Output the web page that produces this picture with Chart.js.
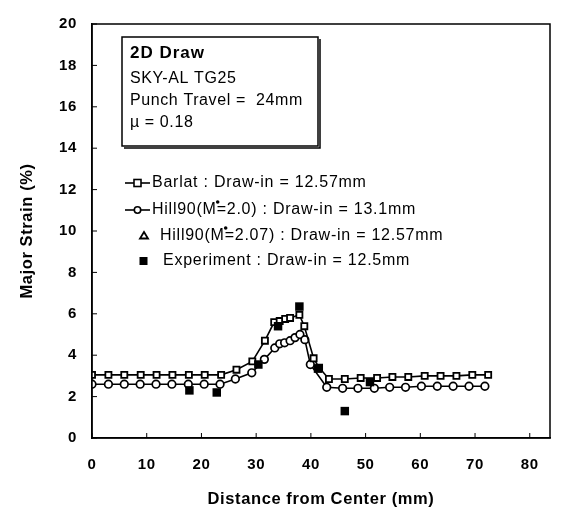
<!DOCTYPE html>
<html>
<head>
<meta charset="utf-8">
<script src="https://cdn.jsdelivr.net/npm/chart.js@4/dist/chart.umd.min.js"></script>
<style>
  body { margin: 0; background: #fff; }
  #wrap { width: 564px; height: 513px; }
</style>
</head>
<body>
<div id="wrap"><canvas id="strainChart" width="564" height="513"></canvas></div>
<script>
// values
const barlatX = [0, 3, 5.9, 8.9, 11.8, 14.7, 17.7, 20.6, 23.6, 26.4, 29.3, 31.6, 33.3, 34.3, 35.3, 36.2, 37.9, 38.8, 40.5, 41.5, 43.3, 46.2, 49.1, 52.1, 54.9, 57.8, 60.8, 63.7, 66.6, 69.5, 72.4];
const barlatY = [3.05, 3.05, 3.05, 3.05, 3.05, 3.05, 3.05, 3.05, 3.05, 3.3, 3.7, 4.7, 5.6, 5.65, 5.75, 5.8, 5.95, 5.4, 3.85, 3.4, 2.85, 2.85, 2.9, 2.9, 2.95, 2.95, 3.0, 3.0, 3.0, 3.05, 3.05];

const hillX = [0, 3, 5.9, 8.8, 11.7, 14.6, 17.6, 20.5, 23.4, 26.2, 29.2, 31.5, 33.4, 34.3, 35.2, 36.2, 37.1, 38.0, 38.9, 39.9, 42.9, 45.8, 48.6, 51.6, 54.4, 57.3, 60.2, 63.1, 66.0, 68.9, 71.8];
const hillY = [2.6, 2.6, 2.6, 2.6, 2.6, 2.6, 2.6, 2.6, 2.6, 2.85, 3.15, 3.8, 4.35, 4.55, 4.6, 4.7, 4.85, 5.0, 4.75, 3.55, 2.45, 2.4, 2.4, 2.4, 2.45, 2.45, 2.5, 2.5, 2.5, 2.5, 2.5];

const expX = [17.8, 22.8, 30.4, 34.0, 37.9, 41.3, 46.2, 50.8];
const expY = [2.3, 2.2, 3.55, 5.4, 6.35, 3.35, 1.3, 2.7];

const xTicks = [0, 10, 20, 30, 40, 50, 60, 70, 80];
const yTicks = [0, 2, 4, 6, 8, 10, 12, 14, 16, 18, 20];

const infoLines = ['SKY-AL TG25', 'Punch Travel =  24mm', '\u00b5 = 0.18'];

function toPoints(xs, ys) {
    return xs.map((x, i) => ({ x: x, y: ys[i] }));
}

const FONT = '"Liberation Sans", Arial, sans-serif';

// the scanned lettering is wider than Arial, spread it a bit
const spacingPlugin = {
    id: 'spacing',
    beforeDraw(chart) {
        chart.ctx.letterSpacing = '0.6px';
    }
};

// frame, inward ticks, text box and legend
const decorPlugin = {
    id: 'decor',
    afterDraw(chart) {
        const c = chart.ctx;
        const a = chart.chartArea;
        const xs = chart.scales.x;
        const ys = chart.scales.y;
        c.save();
        c.strokeStyle = '#000';
        c.fillStyle = '#000';
        c.lineWidth = 1.5;
        c.strokeRect(a.left, a.top, a.right - a.left, a.bottom - a.top);

        // inward ticks
        c.lineWidth = 1;
        c.beginPath();
        yTicks.forEach(v => {
            const py = ys.getPixelForValue(v);
            c.moveTo(a.left, py);
            c.lineTo(a.left + 5, py);
        });
        xTicks.forEach(v => {
            const px = xs.getPixelForValue(v);
            c.moveTo(px, a.bottom);
            c.lineTo(px, a.bottom - 5);
        });
        c.stroke();

        // info box with a little shadow
        c.lineWidth = 1.5;
        c.strokeRect(122, 37, 196, 109);
        c.beginPath();
        c.moveTo(320, 39); c.lineTo(320, 148); c.lineTo(124, 148);
        c.stroke();
        c.textBaseline = 'middle';
        c.textAlign = 'left';
        c.letterSpacing = '1px';
        c.font = 'bold 17px ' + FONT;
        c.fillText('2D Draw', 130, 53);
        c.letterSpacing = '0.6px';
        c.font = '16px ' + FONT;
        infoLines.forEach((t, i) => c.fillText(t, 130, 79 + i * 22));

        // legend
        c.font = '16px ' + FONT;
        c.letterSpacing = '0.75px';
        c.lineWidth = 1.6;
        // Barlat
        c.beginPath(); c.moveTo(125, 183); c.lineTo(150, 183); c.stroke();
        c.fillStyle = '#fff';
        c.fillRect(134, 179.5, 7, 7);
        c.strokeRect(134, 179.5, 7, 7);
        c.fillStyle = '#000';
        c.fillText('Barlat : Draw-in = 12.57mm', 152, 183);
        // Hill90 M=2.0
        c.beginPath(); c.moveTo(125, 210); c.lineTo(150, 210); c.stroke();
        c.fillStyle = '#fff';
        c.beginPath(); c.arc(137.5, 210, 3.2, 0, Math.PI * 2); c.fill(); c.stroke();
        c.fillStyle = '#000';
        const t2a = 'Hill90(M';
        const t2b = '=2.0) : Draw-in = 13.1mm';
        c.fillText(t2a, 152, 210);
        let w = c.measureText(t2a).width;
        c.fillText(t2b, 152 + w, 210);
        c.beginPath(); c.arc(152 + w + 1, 202, 1.8, 0, Math.PI * 2); c.fill();
        // Hill90 M=2.07
        c.beginPath();
        c.moveTo(144, 232); c.lineTo(148, 238.5); c.lineTo(140, 238.5); c.closePath();
        c.lineWidth = 1.8;
        c.stroke();
        const t3a = 'Hill90(M';
        const t3b = '=2.07) : Draw-in = 12.57mm';
        c.fillText(t3a, 160, 236);
        w = c.measureText(t3a).width;
        c.fillText(t3b, 160 + w, 236);
        c.beginPath(); c.arc(160 + w + 1, 228, 1.8, 0, Math.PI * 2); c.fill();
        // Experiment
        c.fillRect(139.5, 257, 8, 8);
        c.fillText('Experiment : Draw-in = 12.5mm', 163, 261);
        c.restore();
    }
};

const ctx = document.getElementById('strainChart').getContext('2d');
const strainChart = new Chart(ctx, {
    type: 'scatter',
    data: {
        datasets: [{
            label: 'Barlat : Draw-in = 12.57mm',
            data: toPoints(barlatX, barlatY),
            showLine: true,
            borderColor: '#000',
            borderWidth: 1.6,
            backgroundColor: '#fff',
            pointStyle: 'rect',
            pointRadius: 4.3,
            pointBorderWidth: 1.8,
            order: 2
        }, {
            label: 'Hill90(M=2.0) : Draw-in = 13.1mm',
            data: toPoints(hillX, hillY),
            showLine: true,
            borderColor: '#000',
            borderWidth: 1.6,
            backgroundColor: '#fff',
            pointStyle: 'circle',
            pointRadius: 3.8,
            pointBorderWidth: 1.7,
            order: 3
        }, {
            label: 'Experiment : Draw-in = 12.5mm',
            data: toPoints(expX, expY),
            showLine: false,
            borderColor: '#000',
            backgroundColor: '#000',
            pointStyle: 'rect',
            pointRadius: 6,
            pointBorderWidth: 0,
            order: 1
        }]
    },
    options: {
        responsive: false,
        animation: false,
        layout: { padding: { left: 0, right: 14, top: 17, bottom: 0 } },
        plugins: {
            legend: { display: false },
            tooltip: { enabled: false }
        },
        scales: {
            x: {
                type: 'linear',
                min: 0,
                max: 83.7,
                afterBuildTicks: function (scale) {
                    scale.ticks = xTicks.map(v => ({ value: v }));
                },
                afterFit: function (scale) { scale.height = 75; },
                grid: { display: false, drawTicks: false },
                border: { display: true, color: '#000', width: 1.5 },
                ticks: {
                    color: '#000',
                    padding: 18,
                    maxRotation: 0,
                    font: { family: FONT, size: 15, weight: 'bold' }
                },
                title: {
                    display: true,
                    text: 'Distance from Center (mm)',
                    color: '#000',
                    padding: { top: 13 },
                    font: { family: FONT, size: 16.5, weight: 'bold' }
                }
            },
            y: {
                min: 0,
                max: 20,
                afterBuildTicks: function (scale) {
                    scale.ticks = yTicks.map(v => ({ value: v }));
                },
                afterFit: function (scale) { scale.width = 92; },
                grid: { display: false, drawTicks: false },
                border: { display: true, color: '#000', width: 1.5 },
                ticks: {
                    color: '#000',
                    padding: 15,
                    font: { family: FONT, size: 15, weight: 'bold' }
                },
                title: {
                    display: true,
                    text: 'Major Strain (%)',
                    color: '#000',
                    padding: { bottom: 0, top: 18 },
                    font: { family: FONT, size: 16.5, weight: 'bold' }
                }
            }
        }
    },
    plugins: [spacingPlugin, decorPlugin]
});
</script>
</body>
</html>
